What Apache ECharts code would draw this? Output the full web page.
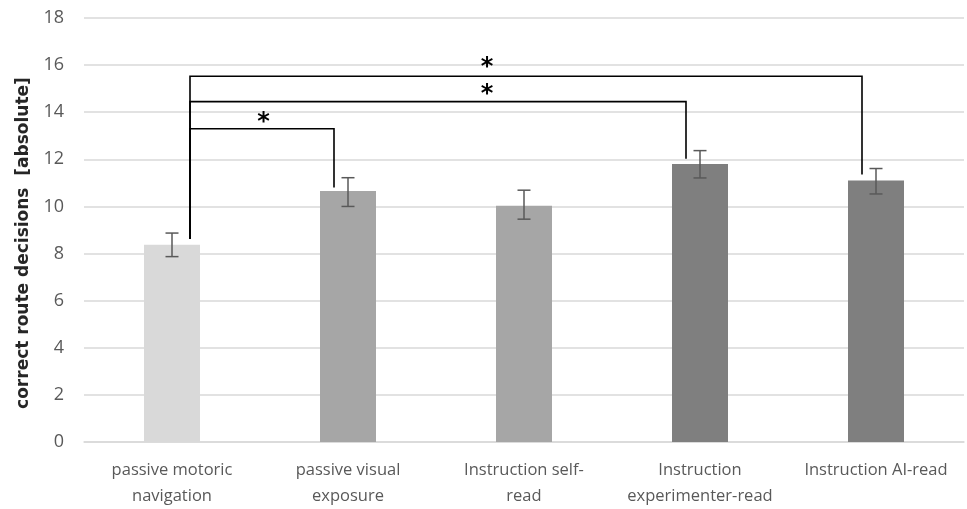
<!DOCTYPE html>
<html><head><meta charset="utf-8">
<script src="https://cdn.jsdelivr.net/npm/echarts@6/dist/echarts.min.js"></script>
<style>html,body{margin:0;padding:0;background:#fff}#c{width:967px;height:509px}</style>
</head><body><div id="c"></div>
<script>
const categories = ['passive motoric\nnavigation','passive visual\nexposure','Instruction self-\nread','Instruction\nexperimenter-read','Instruction AI-read'];
const means = [8.37, 10.66, 10.03, 11.80, 11.10];
const errLow = [7.87, 10.00, 9.46, 11.21, 10.53];
const errHigh = [8.87, 11.22, 10.69, 12.37, 11.61];
const barColors = ['#d9d9d9','#a6a6a6','#a6a6a6','#7f7f7f','#7f7f7f'];
const yTicks = {min:0, max:18, interval:2};
// significance brackets: [fromIndex, toIndex, level, fromBottom, toBottom]
const brackets = [[0,4,15.53,8.62,11.36],[0,3,14.45,8.62,12.03],[0,1,13.30,8.62,10.80]];
// stars: [category position, value]
const stars = [[1.79,16.15],[1.79,15.0],[0.52,13.79]];

const chart = echarts.init(document.getElementById('c'));
function catX(api, pos, y){
  const a = Math.floor(pos), b = Math.min(a+1, categories.length-1);
  const pa = api.coord([a,y]), pb = api.coord([b,y]);
  return pa[0] + (pb[0]-pa[0])*(pos-a);
}
chart.setOption({
  animation:false,
  grid:{left:84,right:3,top:18,bottom:65,containLabel:false},
  xAxis:{type:'category',data:categories,
    axisLine:{lineStyle:{color:'#d9d9d9',width:1.5}},axisTick:{show:false},
    axisLabel:{interval:0,margin:15,fontSize:16.5,lineHeight:26,color:'#595959',fontFamily:'Open Sans'}},
  yAxis:{type:'value',min:yTicks.min,max:yTicks.max,interval:yTicks.interval,
    axisLine:{show:false},axisTick:{show:false},
    splitLine:{lineStyle:{color:'#d9d9d9',width:1.5}},
    axisLabel:{margin:20,fontSize:18,color:'#595959',fontFamily:'Open Sans'}},
  graphic:[{type:'text',x:24,y:243,rotation:Math.PI/2,
    style:{text:'correct route decisions  [absolute]',align:'center',verticalAlign:'middle',
      font:'bold 17px "DejaVu Sans"',fill:'#262626'}}],
  series:[
    {type:'bar',barWidth:56,data:means.map((v,i)=>({value:v,itemStyle:{color:barColors[i]}})),z:1},
    {type:'custom',z:3,data:means.map((v,i)=>[i,errLow[i],errHigh[i]]),
      renderItem:function(params,api){
        const lo=api.coord([api.value(0),api.value(1)]), hi=api.coord([api.value(0),api.value(2)]);
        const w=6.5, st={stroke:'#595959',lineWidth:1.5};
        return {type:'group',children:[
          {type:'line',shape:{x1:lo[0],y1:lo[1],x2:hi[0],y2:hi[1]},style:st},
          {type:'line',shape:{x1:lo[0]-w,y1:lo[1],x2:lo[0]+w,y2:lo[1]},style:st},
          {type:'line',shape:{x1:hi[0]-w,y1:hi[1],x2:hi[0]+w,y2:hi[1]},style:st}]};
      }},
    {type:'custom',z:4,data:brackets,
      renderItem:function(params,api){
        const f=api.value(0), t=api.value(1);
        const x1=api.coord([f,0])[0]+18, x2=api.coord([t,0])[0]-14;
        const yl=api.coord([0,api.value(2)])[1], yb1=api.coord([0,api.value(3)])[1], yb2=api.coord([0,api.value(4)])[1];
        return {type:'polyline',shape:{points:[[x1,yb1],[x1,yl],[x2,yl],[x2,yb2]]},
          style:{stroke:'#000',lineWidth:1.6,fill:null}};
      }},
    {type:'custom',z:5,data:stars,
      renderItem:function(params,api){
        const y=api.value(1);
        const x=catX(api,api.value(0),y), py=api.coord([0,y])[1];
        return {type:'text',x:x,y:py+6,style:{text:'*',align:'center',verticalAlign:'middle',
          font:'bold 24px "DejaVu Sans"',fill:'#000'}};
      }}
  ]
});
</script></body></html>
